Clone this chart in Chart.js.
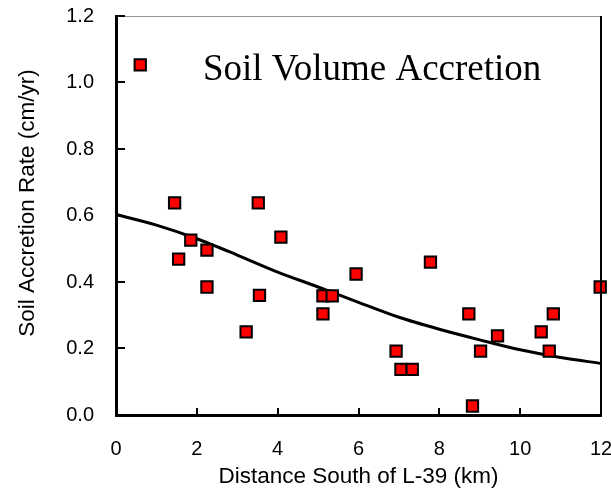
<!DOCTYPE html>
<html>
<head>
<meta charset="utf-8">
<script src="https://cdn.jsdelivr.net/npm/chart.js@4/dist/chart.umd.min.js"></script>
<style>
  html, body { margin: 0; padding: 0; background: #fff; }
</style>
</head>
<body>
<canvas id="soilChart" width="611" height="500"></canvas>
<script>
// measured sites: distance south of L-39 (km) and accretion rate (cm/yr)
const distKm = [0.6, 1.45, 1.55, 1.85, 2.25, 2.25, 3.22, 3.52, 3.55, 4.08,
  5.12, 5.35, 5.12, 5.94, 6.93, 7.05, 7.33, 7.78, 8.73, 8.82,
  9.02, 9.44, 10.52, 10.72, 10.82, 11.98];
const rateCmYr = [1.053, 0.638, 0.469, 0.526, 0.496, 0.385, 0.25, 0.638, 0.36, 0.535,
  0.358, 0.358, 0.304, 0.424, 0.192, 0.137, 0.137, 0.46, 0.304, 0.027,
  0.192, 0.238, 0.25, 0.192, 0.304, 0.385];

// fitted trend line
const trendX = [0, 1, 2, 3, 4, 5, 6, 7, 8, 9, 10, 11, 12];
const trendY = [0.603, 0.571, 0.53, 0.481, 0.43, 0.385, 0.339, 0.294, 0.258, 0.226, 0.196, 0.173, 0.155];

const xTicks = [0, 2, 4, 6, 8, 10, 12];
const yTicks = [0, 0.2, 0.4, 0.6, 0.8, 1.0, 1.2];

const chartTitle = "Soil Volume Accretion";

const frame = {
  id: "frame",
  afterDraw(chart) {
    const { ctx, chartArea: a, scales } = chart;
    ctx.save();
    // top border, thin grey
    ctx.strokeStyle = "#999";
    ctx.lineWidth = 1;
    ctx.beginPath();
    ctx.moveTo(a.left, a.top + 0.5);
    ctx.lineTo(a.right, a.top + 0.5);
    ctx.stroke();
    // right border
    ctx.strokeStyle = "#000";
    ctx.lineWidth = 2;
    ctx.beginPath();
    ctx.moveTo(a.right, a.top);
    ctx.lineTo(a.right, a.bottom);
    ctx.stroke();
    // inward tick marks
    ctx.lineWidth = 2;
    scales.y.ticks.forEach(t => {
      const py = Math.round(scales.y.getPixelForValue(t.value));
      ctx.beginPath();
      ctx.moveTo(a.left, py);
      ctx.lineTo(a.left + 9, py);
      ctx.stroke();
    });
    scales.x.ticks.forEach(t => {
      const px = Math.round(scales.x.getPixelForValue(t.value));
      ctx.beginPath();
      ctx.moveTo(px, a.bottom);
      ctx.lineTo(px, a.bottom - 7);
      ctx.stroke();
    });
    // title inside the plot
    ctx.fillStyle = "#000";
    ctx.font = "37px 'Liberation Serif', 'Times New Roman', serif";
    ctx.textAlign = "left";
    ctx.textBaseline = "alphabetic";
    ctx.fillText(chartTitle, scales.x.getPixelForValue(2.15), scales.y.getPixelForValue(1.008));
    ctx.restore();
  }
};

window.onload = function () {
  const ctx = document.getElementById("soilChart").getContext("2d");
  new Chart(ctx, {
    type: "scatter",
    data: {
      datasets: [
        {
          label: "Trend",
          type: "line",
          data: trendX.map((x, i) => ({ x: x, y: trendY[i] })),
          borderColor: "#000",
          borderWidth: 3,
          pointRadius: 0,
          tension: 0.3,
          fill: false,
          order: 2,
        },
        {
          label: "Sites",
          data: distKm.map((x, i) => ({ x: x, y: rateCmYr[i] })),
          pointStyle: "rect",
          pointRadius: 8,
          pointBackgroundColor: "#ff0000",
          pointBorderColor: "#000",
          pointBorderWidth: 2,
          order: 1,
        },
      ],
    },
    options: {
      responsive: false,
      animation: false,
      clip: false,
      layout: { padding: { left: 0, right: 10, top: 16, bottom: 0 } },
      plugins: {
        legend: { display: false },
        tooltip: { enabled: false },
      },
      scales: {
        x: {
          type: "linear",
          min: 0,
          max: 12,
          afterBuildTicks: s => { s.ticks = xTicks.map(v => ({ value: v })); },
          afterFit: s => { s.height = 85; s.paddingLeft = 0; s.paddingRight = 0; },
          grid: { display: true, drawOnChartArea: false, drawTicks: false },
          border: { color: "#000", width: 3 },
          ticks: {
            padding: 22,
            color: "#000",
            font: { family: "'Liberation Sans', Arial, sans-serif", size: 20 },
          },
          title: {
            display: true,
            text: "Distance South of L-39 (km)",
            color: "#000",
            font: { family: "'Liberation Sans', Arial, sans-serif", size: 22.5 },
            padding: { top: 0, bottom: 10 },
          },
        },
        y: {
          min: 0,
          max: 1.2,
          afterBuildTicks: s => { s.ticks = yTicks.map(v => ({ value: v })); },
          afterFit: s => { s.width = 116; s.paddingTop = 0; s.paddingBottom = 0; },
          grid: { display: true, drawOnChartArea: false, drawTicks: false },
          border: { color: "#000", width: 3 },
          ticks: {
            padding: 22,
            color: "#000",
            font: { family: "'Liberation Sans', Arial, sans-serif", size: 20 },
            callback: v => v.toFixed(1),
          },
          title: {
            display: true,
            // leading spaces nudge the rotated title up a little, as in the original
            text: "    Soil Accretion Rate (cm/yr)",
            color: "#000",
            font: { family: "'Liberation Sans', Arial, sans-serif", size: 22.5 },
            padding: { top: 14, bottom: 0 },
          },
        },
      },
    },
    plugins: [frame],
  });
};
</script>
</body>
</html>
